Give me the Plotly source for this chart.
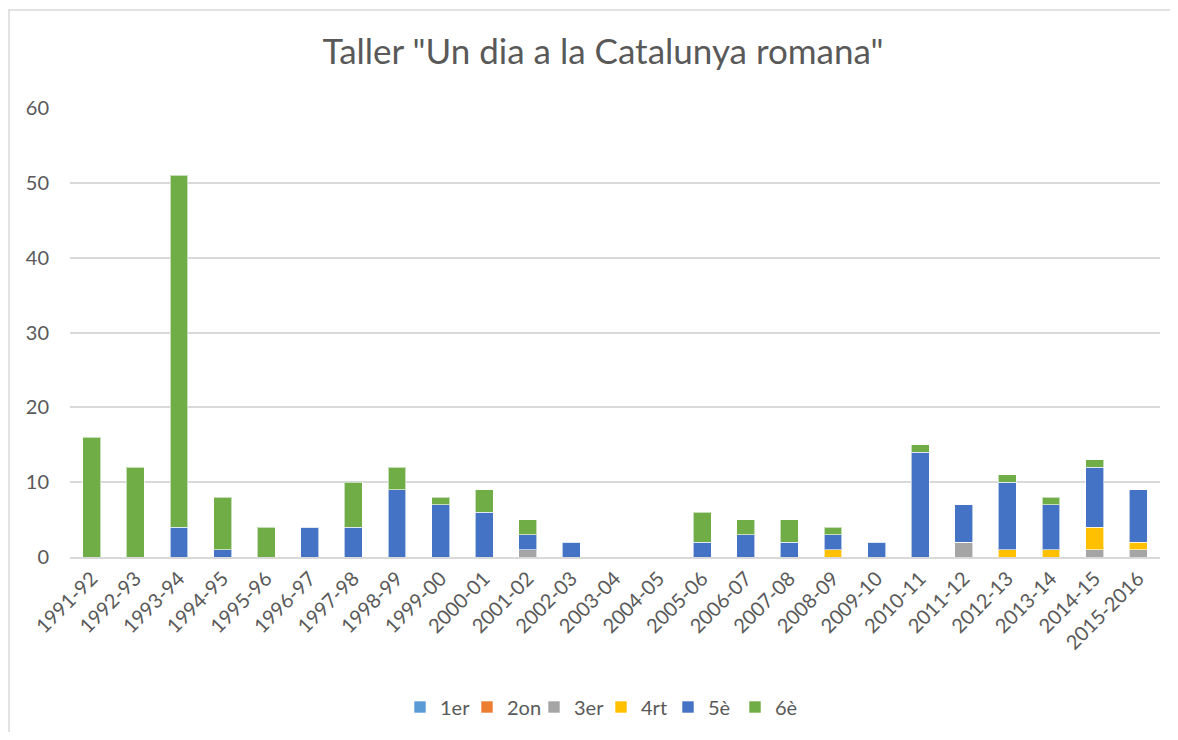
import plotly.graph_objects as go

categories = ["1991-92", "1992-93", "1993-94", "1994-95", "1995-96", "1996-97", "1997-98",
              "1998-99", "1999-00", "2000-01", "2001-02", "2002-03", "2003-04", "2004-05",
              "2005-06", "2006-07", "2007-08", "2008-09", "2009-10", "2010-11", "2011-12",
              "2012-13", "2013-14", "2014-15", "2015-2016"]

primer = [0] * 25
segon = [0] * 25
tercer = [0, 0, 0, 0, 0, 0, 0, 0, 0, 0, 1, 0, 0, 0, 0, 0, 0, 0, 0, 0, 2, 0, 0, 1, 1]
quart = [0, 0, 0, 0, 0, 0, 0, 0, 0, 0, 0, 0, 0, 0, 0, 0, 0, 1, 0, 0, 0, 1, 1, 3, 1]
cinque = [0, 0, 4, 1, 0, 4, 4, 9, 7, 6, 2, 2, 0, 0, 2, 3, 2, 2, 2, 14, 5, 9, 6, 8, 7]
sise = [16, 12, 47, 7, 4, 0, 6, 3, 1, 3, 2, 0, 0, 0, 4, 2, 3, 1, 0, 1, 0, 1, 1, 1, 0]

series = [("1er", primer, "#5B9BD5"), ("2on", segon, "#ED7D31"), ("3er", tercer, "#A5A5A5"),
          ("4rt", quart, "#FFC000"), ("5è", cinque, "#4472C4"), ("6è", sise, "#70AD47")]

FONT = "Lato"
TXT = "#595959"

W, H = 1162, 724          # page adds an 8px body margin
L, R, T, B = 62, 10, 100, 175
PW, PH = W - L - R, H - T - B

fig = go.Figure()
for name, vals, col in series:
    fig.add_trace(go.Bar(x=categories, y=vals, name=name, marker_color=col,
                         marker_line=dict(color="rgba(255,255,255,0.6)", width=1)))

fig.update_layout(
    barmode="stack",
    bargap=0.59,
    width=W, height=H,
    margin=dict(l=L, r=R, t=T, b=B, autoexpand=False),
    paper_bgcolor="white", plot_bgcolor="white",
    font=dict(family=FONT, color=TXT, size=20),
    title=dict(text='Taller "Un dia a la Catalunya romana"', x=595 / W, xanchor="center",
               y=1 - 44 / H, yanchor="middle", font=dict(size=35, color=TXT, family=FONT)),
    legend=dict(orientation="h", x=(593 - L) / PW, xanchor="center", y=-150 / PH,
                yanchor="middle", font=dict(size=20, color=TXT), traceorder="normal",
                itemwidth=30, entrywidth=22),
    xaxis=dict(type="category", tickangle=-45, showgrid=False, showline=True,
               linecolor="#d9d9d9", linewidth=2, automargin=False,
               tickfont=dict(size=20, color=TXT)),
    yaxis=dict(range=[0, 60], dtick=10, showgrid=True, gridcolor="#d9d9d9", gridwidth=1.5,
               zeroline=False, automargin=False, tickfont=dict(size=20, color=TXT),
               ticklabelstandoff=20),
    shapes=[dict(type="rect", xref="paper", yref="paper",
                 x0=(1 - L) / PW, x1=(W + 20 - L) / PW,
                 y0=-(B + 20) / PH, y1=(PH + T - 2) / PH,
                 line=dict(color="#d9d9d9", width=1.5), layer="below")],
)

fig.write_html("out.html")
